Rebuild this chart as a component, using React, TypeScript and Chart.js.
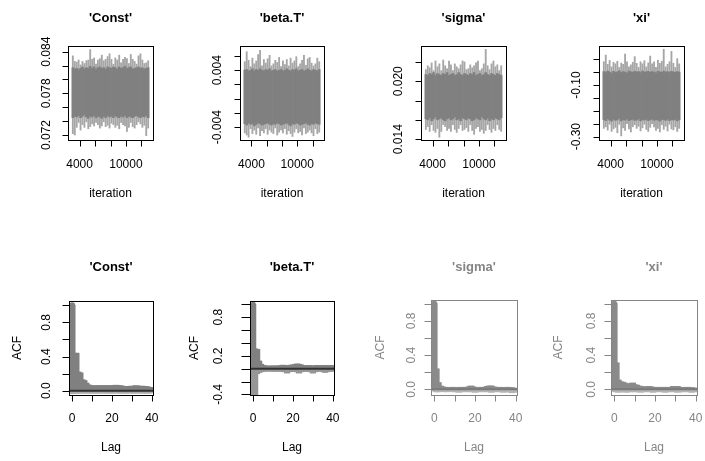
import React, { useEffect, useRef } from "react";
import { Chart, registerables } from "chart.js";

Chart.register(...registerables);

const W = 705;
const H = 461;
const FONT = '"Liberation Sans", Arial, Helvetica, sans-serif';

// ---------------- data ----------------
// trace plots: iteration bins (centres) with per-bin extremes and dense core band
const ITERATION_BINS = [3125, 3375, 3625, 3875, 4125, 4375, 4625, 4875, 5125, 5375, 5625, 5875, 6125, 6375, 6625, 6875, 7125, 7375, 7625, 7875, 8125, 8375, 8625, 8875, 9125, 9375, 9625, 9875, 10125, 10375, 10625, 10875, 11125, 11375, 11625, 11875, 12125, 12375, 12625, 12875];

const CONST_SPIKE_HI = [0.0834, 0.0826, 0.0825, 0.0828, 0.0821, 0.0826, 0.0823, 0.0827, 0.0828, 0.0843, 0.0829, 0.0831, 0.0822, 0.0828, 0.083, 0.0835, 0.0827, 0.0829, 0.0833, 0.0837, 0.0829, 0.0822, 0.0831, 0.0828, 0.0835, 0.0824, 0.0829, 0.0832, 0.083, 0.0823, 0.0836, 0.0829, 0.0826, 0.0822, 0.0834, 0.0837, 0.0828, 0.0823, 0.0824, 0.0827];
const CONST_CORE_HI = [0.0817, 0.0815, 0.0816, 0.0814, 0.0816, 0.0818, 0.0815, 0.0817, 0.0816, 0.0819, 0.0816, 0.0818, 0.0815, 0.0817, 0.0818, 0.0816, 0.0817, 0.0815, 0.0818, 0.0817, 0.0816, 0.0818, 0.0817, 0.0815, 0.0818, 0.0816, 0.0817, 0.0819, 0.0816, 0.0817, 0.0818, 0.0815, 0.0816, 0.0817, 0.0818, 0.0816, 0.0817, 0.0815, 0.0816, 0.0817];
const CONST_CORE_LO = [0.0745, 0.0747, 0.0746, 0.0748, 0.0745, 0.0747, 0.0749, 0.0746, 0.0744, 0.0747, 0.0746, 0.0748, 0.0745, 0.0747, 0.0746, 0.0744, 0.0747, 0.0745, 0.0748, 0.0746, 0.0747, 0.0745, 0.0748, 0.0746, 0.0745, 0.0747, 0.0746, 0.0748, 0.0745, 0.0747, 0.0746, 0.0745, 0.0747, 0.0748, 0.0746, 0.0745, 0.0747, 0.0746, 0.0748, 0.0745];
const CONST_SPIKE_LO = [0.0722, 0.072, 0.0731, 0.0738, 0.0727, 0.0735, 0.0731, 0.0739, 0.0729, 0.0732, 0.0736, 0.0733, 0.0738, 0.0735, 0.073, 0.0733, 0.0739, 0.0732, 0.0734, 0.073, 0.0737, 0.0735, 0.0731, 0.0734, 0.0729, 0.0738, 0.0735, 0.0733, 0.0725, 0.0731, 0.0738, 0.0732, 0.073, 0.0735, 0.0739, 0.0736, 0.0731, 0.0734, 0.0719, 0.073];

const BETA_SPIKE_HI = [0.0052, 0.0066, 0.0054, 0.0045, 0.0057, 0.0049, 0.0053, 0.0062, 0.0068, 0.0046, 0.0055, 0.005, 0.0056, 0.0061, 0.0046, 0.0049, 0.0054, 0.0051, 0.0058, 0.0045, 0.0053, 0.0048, 0.0055, 0.0046, 0.0057, 0.005, 0.0053, 0.0059, 0.0045, 0.0049, 0.0054, 0.0061, 0.0047, 0.0056, 0.0058, 0.005, 0.0046, 0.0049, 0.0057, 0.0052];
const BETA_CORE_HI = [0.004, 0.0041, 0.0039, 0.004, 0.0042, 0.0039, 0.0041, 0.004, 0.0042, 0.004, 0.0039, 0.0041, 0.004, 0.0042, 0.0039, 0.004, 0.0041, 0.0039, 0.004, 0.0041, 0.0039, 0.004, 0.0042, 0.004, 0.0039, 0.0041, 0.004, 0.0042, 0.0039, 0.004, 0.0041, 0.0039, 0.004, 0.0042, 0.004, 0.0039, 0.0041, 0.004, 0.0039, 0.0041];
const BETA_CORE_LO = [-0.0035, -0.0037, -0.0034, -0.0036, -0.0035, -0.0038, -0.0036, -0.0034, -0.0035, -0.0037, -0.0036, -0.0035, -0.0034, -0.0036, -0.0037, -0.0035, -0.0036, -0.0034, -0.0035, -0.0037, -0.0036, -0.0035, -0.0034, -0.0036, -0.0038, -0.0035, -0.0036, -0.0034, -0.0035, -0.0037, -0.0036, -0.0035, -0.0034, -0.0036, -0.0037, -0.0035, -0.0036, -0.0034, -0.0035, -0.0036];
const BETA_SPIKE_LO = [-0.0048, -0.0051, -0.0054, -0.0042, -0.0049, -0.0044, -0.005, -0.0041, -0.0052, -0.0045, -0.0048, -0.0042, -0.005, -0.0044, -0.0047, -0.0049, -0.0041, -0.0051, -0.0047, -0.0044, -0.0048, -0.0042, -0.005, -0.0045, -0.0049, -0.0053, -0.0047, -0.0042, -0.0048, -0.0046, -0.0051, -0.0041, -0.0049, -0.0047, -0.0044, -0.0048, -0.0052, -0.0042, -0.0049, -0.0047];

const SIGMA_SPIKE_HI = [0.0212, 0.0216, 0.0214, 0.0219, 0.0211, 0.0221, 0.0215, 0.0218, 0.0211, 0.0222, 0.0216, 0.0213, 0.0221, 0.0217, 0.0211, 0.0218, 0.0215, 0.0213, 0.0217, 0.0221, 0.022, 0.0212, 0.0213, 0.0217, 0.0214, 0.0216, 0.0219, 0.0221, 0.0211, 0.0213, 0.0218, 0.0233, 0.0216, 0.0212, 0.0218, 0.0221, 0.0215, 0.0217, 0.0211, 0.0216];
const SIGMA_CORE_HI = [0.0207, 0.0206, 0.0208, 0.0207, 0.0209, 0.0206, 0.0208, 0.0207, 0.0206, 0.0208, 0.0207, 0.0209, 0.0206, 0.0207, 0.0208, 0.0206, 0.0207, 0.0209, 0.0207, 0.0206, 0.0208, 0.0207, 0.0206, 0.0208, 0.0207, 0.0209, 0.0206, 0.0207, 0.0208, 0.0206, 0.0207, 0.0209, 0.0207, 0.0206, 0.0208, 0.0207, 0.0206, 0.0208, 0.0207, 0.0206];
const SIGMA_CORE_LO = [0.0161, 0.016, 0.0162, 0.0159, 0.0161, 0.0163, 0.016, 0.0161, 0.0162, 0.016, 0.0159, 0.0161, 0.0162, 0.016, 0.0161, 0.0163, 0.016, 0.0161, 0.0159, 0.0162, 0.0161, 0.016, 0.0162, 0.0161, 0.0159, 0.016, 0.0162, 0.0161, 0.016, 0.0163, 0.0161, 0.016, 0.0162, 0.0159, 0.0161, 0.016, 0.0162, 0.0161, 0.016, 0.0162];
const SIGMA_SPIKE_LO = [0.015, 0.0153, 0.0148, 0.0155, 0.0149, 0.0147, 0.0151, 0.0142, 0.0148, 0.0155, 0.0153, 0.0149, 0.0151, 0.0148, 0.0155, 0.015, 0.0147, 0.0151, 0.0155, 0.0149, 0.015, 0.0152, 0.0148, 0.0155, 0.0149, 0.0145, 0.0151, 0.0153, 0.0148, 0.015, 0.0146, 0.0149, 0.0155, 0.015, 0.0147, 0.0151, 0.0149, 0.0155, 0.015, 0.0148];

const XI_SPIKE_HI = [-0.01, 0.016, -0.02, -0.005, -0.03, -0.012, -0.018, -0.008, -0.032, -0.015, -0.02, 0.02, -0.01, -0.03, -0.022, -0.012, 0.01, -0.016, -0.032, -0.01, -0.018, -0.006, -0.03, -0.014, 0.012, -0.018, -0.01, -0.032, -0.004, -0.016, -0.008, 0.038, -0.03, -0.02, -0.01, 0.03, -0.016, -0.032, 0.002, -0.018];
const XI_CORE_HI = [-0.048, -0.052, -0.046, -0.05, -0.054, -0.047, -0.051, -0.049, -0.045, -0.052, -0.048, -0.05, -0.053, -0.046, -0.049, -0.051, -0.047, -0.05, -0.048, -0.052, -0.046, -0.05, -0.049, -0.047, -0.051, -0.048, -0.05, -0.053, -0.047, -0.049, -0.051, -0.046, -0.05, -0.048, -0.052, -0.047, -0.049, -0.051, -0.048, -0.05];
const XI_CORE_LO = [-0.234, -0.238, -0.231, -0.236, -0.24, -0.233, -0.237, -0.235, -0.229, -0.239, -0.234, -0.236, -0.232, -0.238, -0.235, -0.233, -0.237, -0.236, -0.231, -0.239, -0.234, -0.236, -0.233, -0.238, -0.235, -0.232, -0.237, -0.234, -0.236, -0.24, -0.233, -0.235, -0.237, -0.232, -0.238, -0.234, -0.236, -0.233, -0.239, -0.235];
const XI_SPIKE_LO = [-0.268, -0.262, -0.275, -0.252, -0.28, -0.27, -0.264, -0.285, -0.252, -0.297, -0.266, -0.276, -0.25, -0.27, -0.282, -0.262, -0.254, -0.268, -0.26, -0.278, -0.266, -0.252, -0.272, -0.28, -0.264, -0.25, -0.262, -0.276, -0.268, -0.282, -0.254, -0.272, -0.26, -0.278, -0.252, -0.27, -0.274, -0.262, -0.28, -0.268];

// autocorrelation plots
const LAGS = [0, 1, 2, 3, 4, 5, 6, 7, 8, 9, 10, 11, 12, 13, 14, 15, 16, 17, 18, 19, 20, 21, 22, 23, 24, 25, 26, 27, 28, 29, 30, 31, 32, 33, 34, 35, 36, 37, 38, 39, 40];

const ACF_CONST = [1.0, 0.44, 0.44, 0.22, 0.21, 0.13, 0.12, 0.09, 0.07, 0.06, 0.055, 0.06, 0.055, 0.06, 0.06, 0.055, 0.06, 0.055, 0.06, 0.06, 0.055, 0.06, 0.065, 0.06, 0.06, 0.055, 0.05, 0.045, 0.05, 0.05, 0.055, 0.05, 0.06, 0.055, 0.05, 0.055, 0.05, 0.05, 0.045, 0.04, 0.035];
const ACF_CONST_NEG = [-0.035, -0.03, -0.03, -0.025, -0.03, -0.025, -0.025, -0.03, -0.025, -0.025, -0.03, -0.025, -0.025, -0.03, -0.025, -0.025, -0.025, -0.03, -0.025, -0.025, -0.03, -0.025, -0.025, -0.025, -0.03, -0.025, -0.025, -0.03, -0.025, -0.025, -0.025, -0.03, -0.025, -0.025, -0.025, -0.03, -0.025, -0.025, -0.03, -0.025, -0.025];

const ACF_BETA = [1.0, 0.31, 0.3, 0.12, 0.07, 0.05, 0.045, 0.04, 0.04, 0.04, 0.045, 0.04, 0.04, 0.045, 0.05, 0.055, 0.05, 0.045, 0.05, 0.055, 0.06, 0.065, 0.075, 0.07, 0.06, 0.05, 0.045, 0.05, 0.05, 0.045, 0.04, 0.045, 0.05, 0.05, 0.045, 0.05, 0.05, 0.045, 0.05, 0.05, 0.045];
const ACF_BETA_NEG = [-0.41, -0.41, -0.08, -0.06, -0.05, -0.04, -0.04, -0.04, -0.035, -0.04, -0.04, -0.04, -0.04, -0.04, -0.04, -0.045, -0.05, -0.07, -0.05, -0.04, -0.04, -0.045, -0.05, -0.07, -0.05, -0.04, -0.04, -0.04, -0.045, -0.05, -0.07, -0.05, -0.04, -0.04, -0.04, -0.045, -0.06, -0.05, -0.04, -0.04, -0.04];

const ACF_SIGMA = [1.0, 0.24, 0.08, 0.04, 0.03, 0.025, 0.02, 0.02, 0.02, 0.025, 0.02, 0.02, 0.02, 0.025, 0.02, 0.02, 0.025, 0.03, 0.04, 0.03, 0.02, 0.02, 0.02, 0.025, 0.02, 0.025, 0.035, 0.04, 0.04, 0.03, 0.02, 0.02, 0.025, 0.02, 0.02, 0.02, 0.025, 0.02, 0.02, 0.015, 0.01];
const ACF_SIGMA_NEG = [-0.02, -0.03, -0.03, -0.025, -0.02, -0.025, -0.03, -0.02, -0.025, -0.02, -0.03, -0.025, -0.035, -0.03, -0.02, -0.025, -0.03, -0.02, -0.025, -0.03, -0.035, -0.03, -0.025, -0.02, -0.03, -0.025, -0.02, -0.03, -0.035, -0.025, -0.03, -0.02, -0.025, -0.03, -0.035, -0.03, -0.025, -0.03, -0.04, -0.035, -0.03];

const ACF_XI = [1.0, 0.31, 0.11, 0.09, 0.085, 0.075, 0.065, 0.06, 0.065, 0.075, 0.055, 0.05, 0.04, 0.035, 0.03, 0.025, 0.03, 0.035, 0.03, 0.025, 0.02, 0.02, 0.025, 0.02, 0.02, 0.025, 0.02, 0.02, 0.025, 0.035, 0.03, 0.035, 0.025, 0.02, 0.02, 0.02, 0.025, 0.02, 0.02, 0.015, 0.015];
const ACF_XI_NEG = [-0.025, -0.03, -0.035, -0.03, -0.025, -0.03, -0.035, -0.025, -0.03, -0.02, -0.03, -0.025, -0.03, -0.035, -0.025, -0.03, -0.02, -0.025, -0.03, -0.035, -0.025, -0.03, -0.02, -0.025, -0.03, -0.035, -0.03, -0.025, -0.02, -0.03, -0.025, -0.035, -0.03, -0.025, -0.03, -0.02, -0.025, -0.03, -0.035, -0.03, -0.025];

// axis ticks and tick labels
const TRACE_X_TICKS = [4000, 6000, 8000, 10000, 12000];
const TRACE_X_LABELS = ["4000", "", "", "10000", ""];
const LAG_X_TICKS = [0, 10, 20, 30, 40];
const LAG_X_LABELS = ["0", "", "20", "", "40"];

const CONST_Y_TICKS = [0.072, 0.074, 0.076, 0.078, 0.08, 0.082, 0.084];
const CONST_Y_LABELS = ["0.072", "", "", "0.078", "", "", "0.084"];
const BETA_Y_TICKS = [-0.004, -0.002, 0, 0.002, 0.004, 0.006];
const BETA_Y_LABELS = ["-0.004", "", "", "", "0.004", ""];
const SIGMA_Y_TICKS = [0.014, 0.016, 0.018, 0.02, 0.022];
const SIGMA_Y_LABELS = ["0.014", "", "", "0.020", ""];
const XI_Y_TICKS = [-0.3, -0.25, -0.2, -0.15, -0.1, -0.05, 0];
const XI_Y_LABELS = ["-0.30", "", "", "", "-0.10", "", ""];
const ACF_Y_TICKS = [0, 0.2, 0.4, 0.6, 0.8, 1.0];
const ACF_Y_LABELS = ["0.0", "", "0.4", "", "0.8", ""];
const ACF_BETA_Y_TICKS = [-0.4, -0.2, 0, 0.2, 0.4, 0.6, 0.8, 1.0];
const ACF_BETA_Y_LABELS = ["-0.4", "", "", "0.2", "", "", "0.8", ""];

const TITLES = ["'Const'", "'beta.T'", "'sigma'", "'xi'"];

// ---------------- builders ----------------
function traceDatasets(spikeHi: number[], coreHi: number[], coreLo: number[], spikeLo: number[]) {
  return [
    {
      label: "core",
      data: ITERATION_BINS.map((it, i) => ({ x: it, y: [coreLo[i], coreHi[i]] })),
      backgroundColor: "#808080",
      borderWidth: 0,
      grouped: false,
      categoryPercentage: 1,
      barPercentage: 1,
      order: 0,
    },
    {
      label: "extremes",
      data: ITERATION_BINS.map((it, i) => ({ x: it, y: [spikeLo[i], spikeHi[i]] })),
      backgroundColor: "#a6a6a6",
      borderWidth: 0,
      grouped: false,
      barThickness: 1.2,
      order: 1,
    },
  ];
}

function acfDatasets(pos: number[], neg: number[], col: string, negCol: string, thick: number) {
  return [
    {
      label: "acf",
      data: LAGS.map((l, i) => ({ x: l, y: pos[i] })),
      backgroundColor: col,
      borderWidth: 0,
      grouped: false,
      barThickness: thick,
      order: 0,
    },
    {
      label: "acf-neg",
      data: LAGS.map((l, i) => ({ x: l, y: neg[i] })),
      backgroundColor: negCol,
      borderWidth: 0,
      grouped: false,
      barThickness: thick,
      order: 1,
    },
  ];
}

type Spec = {
  title: string;
  box: { l: number; t: number; r: number; b: number };
  titleY: number;
  xMin: number; xMax: number; xTicks: number[]; xLabels: string[]; xLabelY: number;
  xTitle: string; xTitleY: number;
  yMin: number; yMax: number; yTicks: number[]; yLabels: string[]; yLabelDx: number;
  yTitle?: string; yTitleDx?: number;
  ink: string; tickLen: number; yTickLen: number;
  zero?: { color: string; width: number };
  capColor?: string; capWidth?: number;
  datasets: any[];
};

const BLACK = "#000000";
const GREY_INK = "#858585";

const SPECS: Spec[] = [
  {
    title: TITLES[0], box: { l: 68, t: 46, r: 153, b: 140 }, titleY: 18.5,
    xMin: 2500, xMax: 13500, xTicks: TRACE_X_TICKS, xLabels: TRACE_X_LABELS, xLabelY: 164.5,
    xTitle: "iteration", xTitleY: 193.5,
    yMin: 0.07128, yMax: 0.08482, yTicks: CONST_Y_TICKS, yLabels: CONST_Y_LABELS, yLabelDx: -21,
    ink: BLACK, tickLen: 6, yTickLen: 6,
    datasets: traceDatasets(CONST_SPIKE_HI, CONST_CORE_HI, CONST_CORE_LO, CONST_SPIKE_LO),
  },
  {
    title: TITLES[1], box: { l: 240, t: 46, r: 324, b: 140 }, titleY: 18.5,
    xMin: 2500, xMax: 13500, xTicks: TRACE_X_TICKS, xLabels: TRACE_X_LABELS, xLabelY: 164.5,
    xTitle: "iteration", xTitleY: 193.5,
    yMin: -0.0058, yMax: 0.0074, yTicks: BETA_Y_TICKS, yLabels: BETA_Y_LABELS, yLabelDx: -22,
    ink: BLACK, tickLen: 6, yTickLen: 6,
    datasets: traceDatasets(BETA_SPIKE_HI, BETA_CORE_HI, BETA_CORE_LO, BETA_SPIKE_LO),
  },
  {
    title: TITLES[2], box: { l: 421, t: 46, r: 506, b: 140 }, titleY: 18.5,
    xMin: 2500, xMax: 13500, xTicks: TRACE_X_TICKS, xLabels: TRACE_X_LABELS, xLabelY: 164.5,
    xTitle: "iteration", xTitleY: 193.5,
    yMin: 0.01391, yMax: 0.02365, yTicks: SIGMA_Y_TICKS, yLabels: SIGMA_Y_LABELS, yLabelDx: -22.5,
    ink: BLACK, tickLen: 6, yTickLen: 6,
    datasets: traceDatasets(SIGMA_SPIKE_HI, SIGMA_CORE_HI, SIGMA_CORE_LO, SIGMA_SPIKE_LO),
  },
  {
    title: TITLES[3], box: { l: 599, t: 46, r: 684, b: 140 }, titleY: 18.5,
    xMin: 2500, xMax: 13500, xTicks: TRACE_X_TICKS, xLabels: TRACE_X_LABELS, xLabelY: 164.5,
    xTitle: "iteration", xTitleY: 193.5,
    yMin: -0.313, yMax: 0.051, yTicks: XI_Y_TICKS, yLabels: XI_Y_LABELS, yLabelDx: -22.5,
    ink: BLACK, tickLen: 6, yTickLen: 6,
    datasets: traceDatasets(XI_SPIKE_HI, XI_CORE_HI, XI_CORE_LO, XI_SPIKE_LO),
  },
  {
    title: TITLES[0], box: { l: 69, t: 301, r: 153, b: 395 }, titleY: 267.5,
    xMin: -1.6, xMax: 40.6, xTicks: LAG_X_TICKS, xLabels: LAG_X_LABELS, xLabelY: 419,
    xTitle: "Lag", xTitleY: 448,
    yMin: -0.05, yMax: 1.05, yTicks: ACF_Y_TICKS, yLabels: ACF_Y_LABELS, yLabelDx: -22,
    yTitle: "ACF", yTitleDx: -51.5,
    ink: BLACK, tickLen: 6, yTickLen: 7,
    zero: { color: "#333333", width: 2 },
    capColor: "#808080", capWidth: 6,
    datasets: acfDatasets(ACF_CONST, ACF_CONST_NEG, "#808080", "#ababab", 6),
  },
  {
    title: TITLES[1], box: { l: 250, t: 301, r: 334, b: 395 }, titleY: 267.5,
    xMin: -1.6, xMax: 40.6, xTicks: LAG_X_TICKS, xLabels: LAG_X_LABELS, xLabelY: 419,
    xTitle: "Lag", xTitleY: 448,
    yMin: -0.41, yMax: 1.053, yTicks: ACF_BETA_Y_TICKS, yLabels: ACF_BETA_Y_LABELS, yLabelDx: -31,
    yTitle: "ACF", yTitleDx: -55,
    ink: BLACK, tickLen: 6, yTickLen: 9,
    zero: { color: "#333333", width: 2 },
    capColor: "#808080", capWidth: 5.5,
    datasets: acfDatasets(ACF_BETA, ACF_BETA_NEG, "#808080", "#969696", 5.5),
  },
  {
    title: TITLES[2], box: { l: 431, t: 300, r: 517, b: 395 }, titleY: 267.5,
    xMin: -1.6, xMax: 40.6, xTicks: LAG_X_TICKS, xLabels: LAG_X_LABELS, xLabelY: 419,
    xTitle: "Lag", xTitleY: 448,
    yMin: -0.066, yMax: 1.043, yTicks: ACF_Y_TICKS, yLabels: ACF_Y_LABELS, yLabelDx: -19,
    yTitle: "ACF", yTitleDx: -50,
    ink: GREY_INK, tickLen: 6, yTickLen: 7,
    zero: { color: "#7a7a7a", width: 2 },
    capColor: "#8a8a8a", capWidth: 6,
    datasets: acfDatasets(ACF_SIGMA, ACF_SIGMA_NEG, "#8a8a8a", "#b4b4b4", 6),
  },
  {
    title: TITLES[3], box: { l: 611, t: 300, r: 697, b: 395 }, titleY: 267.5,
    xMin: -1.6, xMax: 40.6, xTicks: LAG_X_TICKS, xLabels: LAG_X_LABELS, xLabelY: 419,
    xTitle: "Lag", xTitleY: 448,
    yMin: -0.066, yMax: 1.043, yTicks: ACF_Y_TICKS, yLabels: ACF_Y_LABELS, yLabelDx: -19,
    yTitle: "ACF", yTitleDx: -52.5,
    ink: GREY_INK, tickLen: 6, yTickLen: 7,
    zero: { color: "#7a7a7a", width: 2 },
    capColor: "#8a8a8a", capWidth: 6,
    datasets: acfDatasets(ACF_XI, ACF_XI_NEG, "#8a8a8a", "#b4b4b4", 6),
  },
];

function makePlugin(spec: Spec) {
  return {
    id: "rStyleAxes",
    afterDatasetsDraw(chart: any) {
      const { ctx, chartArea: a, scales } = chart;
      ctx.save();
      ctx.beginPath();
      ctx.rect(a.left, a.top, a.right - a.left, a.bottom - a.top);
      ctx.clip();
      // round line-end cap of the lag-0 spike (R draws type="h" with thick round-ended lines)
      if (spec.capColor) {
        const meta = chart.getDatasetMeta(0);
        const bar = meta.data[0];
        if (bar) {
          ctx.fillStyle = spec.capColor;
          ctx.beginPath();
          ctx.arc(bar.x, bar.y, (spec.capWidth || 6) / 2, 0, Math.PI * 2);
          ctx.fill();
        }
      }
      if (spec.zero) {
        const y0 = scales.y.getPixelForValue(0);
        ctx.strokeStyle = spec.zero.color;
        ctx.lineWidth = spec.zero.width;
        ctx.beginPath();
        ctx.moveTo(a.left, y0);
        ctx.lineTo(a.right, y0);
        ctx.stroke();
      }
      ctx.restore();
    },
    afterDraw(chart: any) {
      const { ctx, chartArea: a, scales } = chart;
      const xs = scales.x;
      const ys = scales.y;
      const L = Math.round(a.left), T = Math.round(a.top), R = Math.round(a.right), B = Math.round(a.bottom);
      ctx.save();
      ctx.strokeStyle = spec.ink;
      ctx.fillStyle = spec.ink;
      ctx.lineWidth = 1;
      ctx.strokeRect(L + 0.5, T + 0.5, R - L, B - T);
      ctx.beginPath();
      spec.xTicks.forEach((v) => {
        const px = Math.round(xs.getPixelForValue(v)) + 0.5;
        ctx.moveTo(px, B + 0.5);
        ctx.lineTo(px, B + 0.5 + spec.tickLen);
      });
      spec.yTicks.forEach((v) => {
        const py = Math.round(ys.getPixelForValue(v)) + 0.5;
        ctx.moveTo(L + 0.5, py);
        ctx.lineTo(L + 0.5 - spec.yTickLen, py);
      });
      ctx.stroke();
      ctx.font = `12px ${FONT}`;
      ctx.textAlign = "center";
      ctx.textBaseline = "middle";
      spec.xTicks.forEach((v, i) => {
        const s = spec.xLabels[i];
        if (s) ctx.fillText(s, xs.getPixelForValue(v), spec.xLabelY);
      });
      spec.yTicks.forEach((v, i) => {
        const s = spec.yLabels[i];
        if (!s) return;
        ctx.save();
        ctx.translate(a.left + spec.yLabelDx, ys.getPixelForValue(v));
        ctx.rotate(-Math.PI / 2);
        ctx.fillText(s, 0, 0);
        ctx.restore();
      });
      const cx = (a.left + a.right) / 2;
      ctx.fillText(spec.xTitle, cx, spec.xTitleY);
      if (spec.yTitle) {
        ctx.save();
        ctx.translate(a.left + (spec.yTitleDx || 0), (a.top + a.bottom) / 2);
        ctx.rotate(-Math.PI / 2);
        ctx.fillText(spec.yTitle, 0, 0);
        ctx.restore();
      }
      ctx.font = `bold 13px ${FONT}`;
      ctx.fillText(spec.title, cx, spec.titleY);
      ctx.restore();
    },
  };
}

function Panel({ spec }: { spec: Spec }) {
  const ref = useRef<HTMLCanvasElement>(null);
  useEffect(() => {
    const canvas = ref.current;
    if (!canvas) return;
    const chart = new Chart(canvas, {
      type: "bar",
      data: { datasets: spec.datasets },
      options: {
        animation: false,
        responsive: false,
        devicePixelRatio: 1,
        layout: {
          padding: { left: spec.box.l, top: spec.box.t, right: W - spec.box.r, bottom: H - spec.box.b },
        },
        plugins: { legend: { display: false }, title: { display: false }, tooltip: { enabled: false } },
        scales: {
          x: { type: "linear", min: spec.xMin, max: spec.xMax, display: false, offset: false },
          y: { type: "linear", min: spec.yMin, max: spec.yMax, display: false },
        },
      },
      plugins: [makePlugin(spec)],
    } as any);
    return () => chart.destroy();
  }, [spec]);
  return (
    <canvas
      ref={ref}
      width={W}
      height={H}
      style={{ position: "absolute", left: 0, top: 0, width: W, height: H }}
    />
  );
}

export default function App() {
  return (
    <div style={{ position: "fixed", left: 0, top: 0, width: W, height: H, background: "#ffffff", overflow: "hidden" }}>
      {SPECS.map((s, i) => (
        <Panel key={i} spec={s} />
      ))}
    </div>
  );
}
